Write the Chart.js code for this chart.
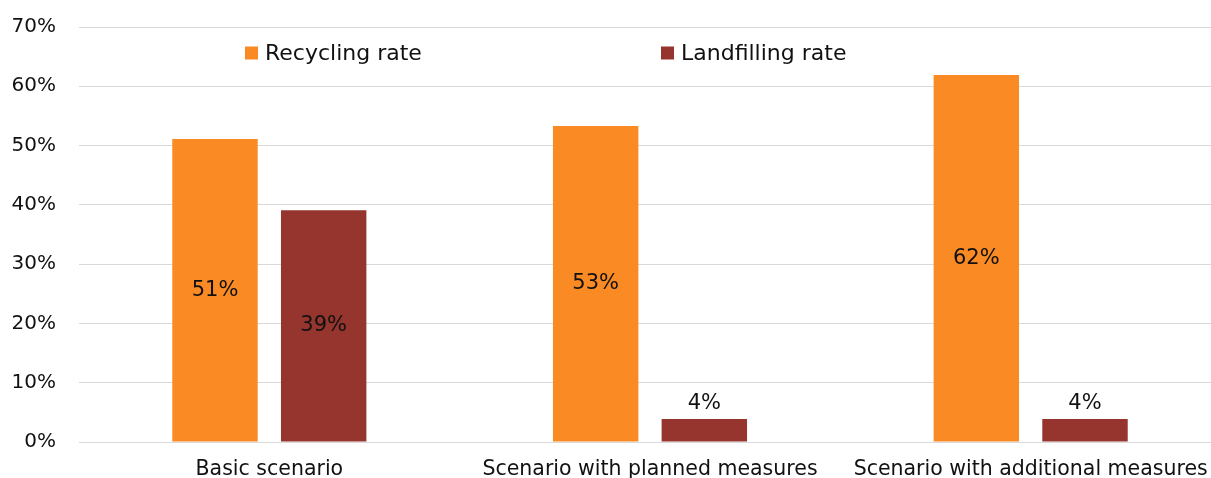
<!DOCTYPE html>
<html>
<head>
<meta charset="utf-8">
<script src="https://cdn.jsdelivr.net/npm/chart.js"></script>
<style>
  html, body { margin: 0; padding: 0; background: #fff; overflow: hidden; }
  #wrap { width: 1224px; height: 486px; margin-top: -8px; position: relative; }
</style>
</head>
<body>
<div id="wrap"><canvas id="chart"></canvas></div>
<script>
// chart data
const categories = ['Basic scenario', 'Scenario with planned measures', 'Scenario with additional measures'];
const recyclingRate = [51.1, 53.3, 61.9];
const landfillingRate = [39.1, 3.9, 3.9];
const recyclingLabels = ['51%', '53%', '62%'];
const landfillingLabels = ['39%', '4%', '4%'];
const seriesNames = ['Recycling rate', 'Landfilling rate'];
const yTicks = [0, 10, 20, 30, 40, 50, 60, 70];

const FONT = "'DejaVu Sans', sans-serif";
const ORANGE = '#FA8A24';
const DARKRED = '#96352E';

// value labels: inside the bar (centered) or just above short bars
const valueLabelsPlugin = {
    id: 'valueLabels',
    afterDatasetsDraw(chart) {
        const ctx = chart.ctx;
        const texts = [recyclingLabels, landfillingLabels];
        ctx.save();
        ctx.font = '21px ' + FONT;
        ctx.fillStyle = '#111';
        ctx.textAlign = 'center';
        chart.data.datasets.forEach((ds, i) => {
            const meta = chart.getDatasetMeta(i);
            meta.data.forEach((bar, j) => {
                const v = ds.data[j];
                if (v >= 10) {
                    ctx.textBaseline = 'middle';
                    ctx.fillText(texts[i][j], bar.x, (bar.y + bar.base) / 2);
                } else {
                    ctx.textBaseline = 'bottom';
                    ctx.fillText(texts[i][j], bar.x, bar.y - 5);
                }
            });
        });
        ctx.restore();
    }
};

// legend drawn inside the plot area, items spread apart
const insideLegendPlugin = {
    id: 'insideLegend',
    afterDraw(chart) {
        const ctx = chart.ctx;
        const area = chart.chartArea;
        const offsets = [166, 582]; // from left edge of plot area
        const y = area.top + 26;
        ctx.save();
        ctx.font = '22px ' + FONT;
        ctx.textBaseline = 'middle';
        ctx.textAlign = 'left';
        chart.data.datasets.forEach((ds, i) => {
            const x = area.left + offsets[i];
            ctx.fillStyle = ds.backgroundColor;
            ctx.fillRect(x, y - 6.5, 13, 13);
            ctx.fillStyle = '#111';
            ctx.fillText(ds.label, x + 20, y + 1);
        });
        ctx.restore();
    }
};

const ctx = document.getElementById('chart').getContext('2d');
new Chart(ctx, {
    type: 'bar',
    data: {
        labels: categories,
        datasets: [
            { label: seriesNames[0], data: recyclingRate, backgroundColor: ORANGE },
            { label: seriesNames[1], data: landfillingRate, backgroundColor: DARKRED }
        ]
    },
    options: {
        responsive: true,
        maintainAspectRatio: false,
        animation: false,
        layout: { padding: { top: 0, right: 3, left: 0, bottom: 0 } },
        categoryPercentage: 0.571,
        barPercentage: 0.786,
        plugins: {
            legend: { display: false },
            tooltip: { enabled: false }
        },
        scales: {
            x: {
                grid: { display: false, drawTicks: false },
                border: { color: '#d9d9d9', width: 1 },
                ticks: { color: '#111', font: { family: FONT, size: 20.5 }, padding: 15, maxRotation: 0 },
                afterFit(scale) { scale.height = 36; }
            },
            y: {
                min: 0,
                max: 70,
                afterBuildTicks(scale) { scale.ticks = yTicks.map(v => ({ value: v })); },
                grid: { color: '#d9d9d9', lineWidth: 1, drawTicks: false },
                border: { display: false },
                ticks: {
                    color: '#111',
                    font: { family: FONT, size: 20 },
                    padding: 23,
                    callback: v => v + '%'
                },
                afterFit(scale) { scale.width = 79; }
            }
        }
    },
    plugins: [valueLabelsPlugin, insideLegendPlugin]
});
</script>
</body>
</html>
